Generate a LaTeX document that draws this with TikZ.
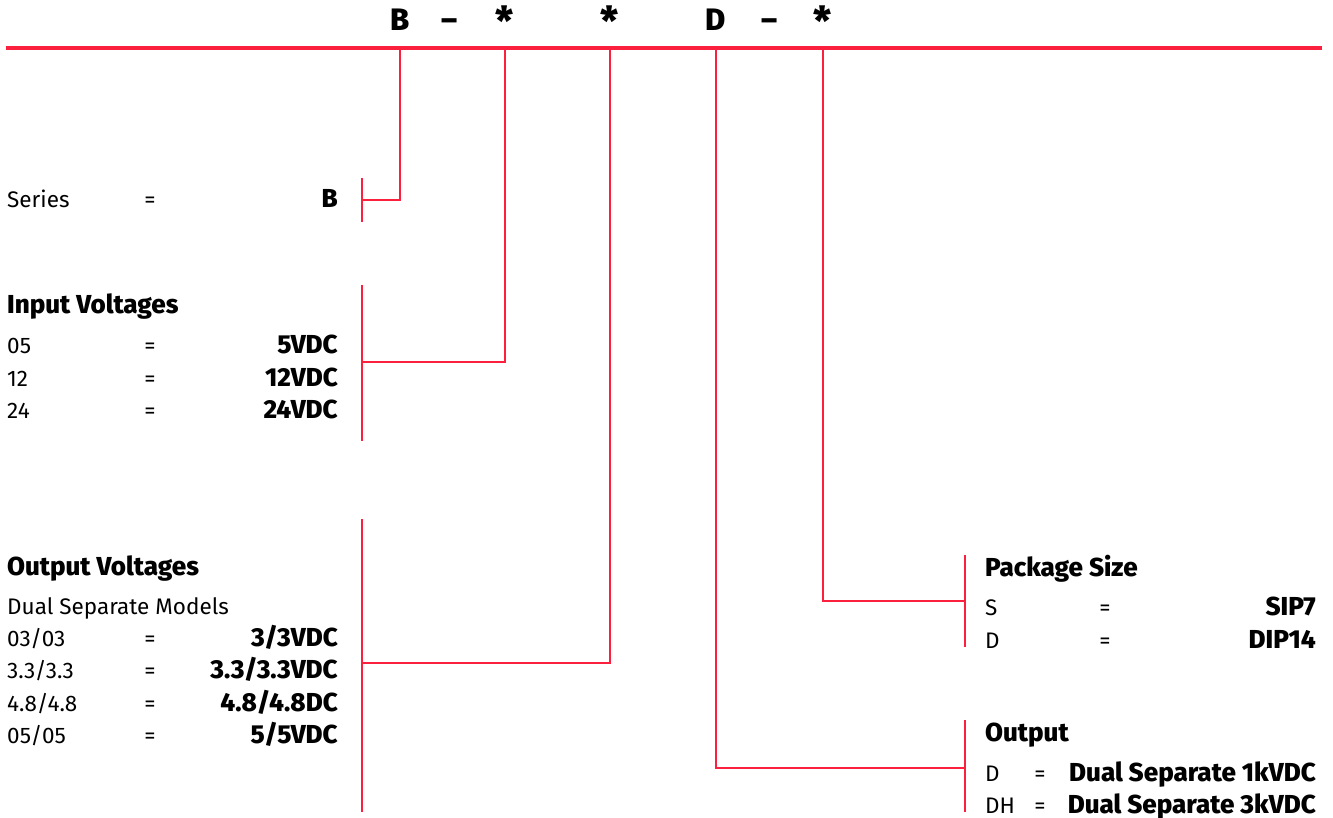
\documentclass[tikz,border=0pt]{standalone}
\usepackage{fontspec}
\setmainfont{Fira Sans}[BoldFont={Fira Sans ExtraBold}]
\usetikzlibrary{positioning}
\definecolor{codered}{RGB}{250,32,62}

\begin{document}
\begin{tikzpicture}[x=1pt, y=-1pt,
    redline/.style={draw=codered, line width=2.7pt},
    hdr/.style={font=\fontsize{31}{33}\selectfont\bfseries, inner sep=0pt, anchor=base},
    lbl/.style={font=\fontsize{22.5}{24}\selectfont, inner sep=0pt, anchor=base west},
    ttl/.style={lbl, font=\fontsize{26}{28}\selectfont\bfseries},
    eq/.style={font=\fontsize{22.5}{24}\selectfont, inner sep=0pt, anchor=base},
    val/.style={font=\fontsize{26}{28}\selectfont\bfseries, inner sep=0pt, anchor=base east}]
        \useasboundingbox (0,0) rectangle (1333,818);

        % part number code
        \node[hdr] (h1) at (400,31) {B};
        \node[hdr] (h2) at (450,31) {–};
        \node[hdr] (h3) at (505,36) {\fontsize{40}{40}\selectfont *};
        \node[hdr] (h4) at (610,36) {\fontsize{40}{40}\selectfont *};
        \node[hdr] (h5) at (716,31) {D};
        \node[hdr] (h6) at (770,31) {–};
        \node[hdr] (h7) at (823,36) {\fontsize{40}{40}\selectfont *};
        \coordinate (ruleL) at (6,48);
        \coordinate (ruleR) at (1322,48);
        \draw[redline, line width=3.8pt] (ruleL) -- (ruleR);

        % Series
        \node[lbl] (ser) at (7,208) {Series};
        \node[eq] (sereq) at (150,208) {=};
        \node[val] (serval) at (338,208) {B};

        % Input Voltages
        \node[ttl] (inp) at (7,313) {Input Voltages};
        \node[lbl] (in1) at (7,353) {05};
        \node[eq] at (150,353) {=};
        \node[val] at (338,353) {5VDC};
        \node[lbl] (in2) at (7,386) {12};
        \node[eq] at (150,386) {=};
        \node[val] at (338,386) {12VDC};
        \node[lbl] (in3) at (7,418) {24};
        \node[eq] at (150,418) {=};
        \node[val] at (338,418) {24VDC};

        % Output Voltages
        \node[ttl] (outv) at (7,575) {Output Voltages};
        \node[lbl] (dsm) at (7,614) {Dual Separate Models};
        \node[lbl] (ov1) at (7,646) {03/03};
        \node[eq] at (150,646) {=};
        \node[val] at (338,646) {3/3VDC};
        \node[lbl] (ov2) at (7,678) {3.3/3.3};
        \node[eq] at (150,678) {=};
        \node[val] at (338,678) {3.3/3.3VDC};
        \node[lbl] (ov3) at (7,711) {4.8/4.8};
        \node[eq] at (150,711) {=};
        \node[val] at (338,711) {4.8/4.8DC};
        \node[lbl] (ov4) at (7,743) {05/05};
        \node[eq] at (150,743) {=};
        \node[val] at (338,743) {5/5VDC};

        % Package Size
        \node[ttl] (pkg) at (985,576) {Package Size};
        \node[lbl] (pk1) at (985,615) {S};
        \node[eq] at (1105,615) {=};
        \node[val] at (1316,615) {SIP7};
        \node[lbl] (pk2) at (985,648) {D};
        \node[eq] at (1105,648) {=};
        \node[val] at (1316,648) {DIP14};

        % Output
        \node[ttl] (out) at (985,741) {Output};
        \node[lbl] (ot1) at (985,781) {D};
        \node[eq] at (1040,781) {=};
        \node[val] at (1316,781) {Dual Separate 1kVDC};
        \node[lbl] (ot2) at (985,813) {DH};
        \node[eq] at (1040,813) {=};
        \node[val] at (1316,813) {Dual Separate 3kVDC};

        % brackets
        \coordinate (b1) at (362,200);
        \coordinate (b2) at (362,362);
        \coordinate (b3) at (362,663);
        \coordinate (b4) at (965,768);
        \coordinate (b5) at (965,601);
        \draw[redline] (362,178) -- (362,222);
        \draw[redline] (362,285) -- (362,441);
        \draw[redline] (362,519) -- (362,812);
        \draw[redline] (965,720) -- (965,812);
        \draw[redline] (965,555) -- (965,647);

        % leaders
        \draw[redline] (h1 |- ruleL) |- (b1);
        \draw[redline] (h3 |- ruleL) |- (b2);
        \draw[redline] (h4 |- ruleL) |- (b3);
        \draw[redline] (h5 |- ruleL) |- (b4);
        \draw[redline] (h7 |- ruleL) |- (b5);
      \end{tikzpicture}
\end{document}
